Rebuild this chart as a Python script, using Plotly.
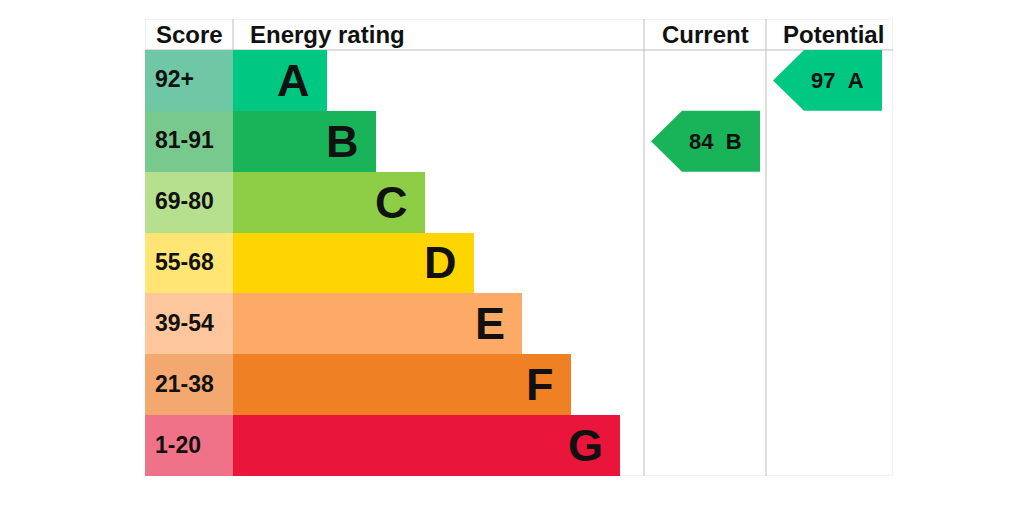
import plotly.graph_objects as go

# ---- data ----
bands = ["A", "B", "C", "D", "E", "F", "G"]
score_ranges = ["92+", "81-91", "69-80", "55-68", "39-54", "21-38", "1-20"]
band_lengths = [94, 143, 192, 241, 289, 338, 387]   # bar length (px-units)
band_colors = ["#00c781", "#19b459", "#8dce46", "#ffd500", "#fcaa65", "#ef8023", "#e9153b"]
score_colors = ["#6fc7a6", "#78c98d", "#b6e08e", "#ffe574", "#fdc69c", "#f2a86e", "#ef7289"]
headers = ["Score", "Energy rating", "Current", "Potential"]
current_score, current_band = 84, "B"
potential_score, potential_band = 97, "A"

# ---- layout geometry (axis units ~ pixels) ----
SCORE_W = 88
CUR_X0, CUR_X1 = 499, 621
POT_X0, POT_X1 = 621, 748
HEADER_U = 0.509
FONT = "Liberation Sans, Arial, Helvetica, sans-serif"
TXT = "#111111"
rows = list(range(len(bands)))

fig = go.Figure()

# score column
fig.add_trace(go.Bar(
    y=rows, x=[SCORE_W] * len(bands), base=0, orientation="h", width=1,
    marker=dict(color=score_colors, line=dict(width=0)), hoverinfo="skip",
    showlegend=False))
# rating bars
fig.add_trace(go.Bar(
    y=rows, x=band_lengths, base=SCORE_W, orientation="h", width=1,
    marker=dict(color=band_colors, line=dict(width=0)), hoverinfo="skip",
    showlegend=False))

def arrow(col_x0, col_x1, band, color, right_gap):
    i = bands.index(band)
    tip = col_x0 + 7
    notch = col_x0 + 38
    right = col_x1 - right_gap
    xs = [tip, notch, right, right, notch, tip]
    ys = [i, i - 0.5, i - 0.5, i + 0.5, i + 0.5, i]
    fig.add_trace(go.Scatter(x=xs, y=ys, mode="lines", fill="toself",
                             fillcolor=color, line=dict(width=0, color=color),
                             hoverinfo="skip", showlegend=False))
    return i, (notch + right) / 2 - 6

ci, cx = arrow(CUR_X0, CUR_X1, current_band, band_colors[bands.index(current_band)], 6)
pi, px = arrow(POT_X0, POT_X1, potential_band, band_colors[bands.index(potential_band)], 11)

ann = []
for i, (s, b, L) in enumerate(zip(score_ranges, bands, band_lengths)):
    ann.append(dict(x=8, y=i, text=s, xanchor="left", yanchor="middle", showarrow=False,
                    yshift=1,
                    font=dict(family=FONT, size=23, color=TXT, weight="bold")))
    ann.append(dict(x=SCORE_W + L, y=i, text=b, xanchor="right", yanchor="middle",
                    xshift=-15, showarrow=False,
                    font=dict(family=FONT, size=45, color=TXT, weight="bold")))

ann.append(dict(x=cx, y=ci, text=f"{current_score}\u00a0\u00a0{current_band}", showarrow=False,
                xanchor="center", yanchor="middle",
                font=dict(family=FONT, size=22, color=TXT, weight="bold")))
ann.append(dict(x=px, y=pi, text=f"{potential_score}\u00a0\u00a0{potential_band}", showarrow=False,
                xanchor="center", yanchor="middle",
                font=dict(family=FONT, size=22, color=TXT, weight="bold")))

hy = -0.5 - HEADER_U / 2
hdr_pos = [(9, "left"), (SCORE_W + 15, "left"), ((CUR_X0 + CUR_X1) / 2, "center"),
           ((POT_X0 + POT_X1) / 2 + 4, "center")]
for h, (x, anc) in zip(headers, hdr_pos):
    ann.append(dict(x=x, y=hy, text=h, xanchor=anc, yanchor="middle", showarrow=False,
                    font=dict(family=FONT, size=24, color=TXT, weight="bold")))

top = -0.5 - HEADER_U
bot = 6.5
light = "#e3e3e3"
mid = "#bdbdbd"
shapes = [
    dict(type="line", x0=0, x1=748, y0=top, y1=top, line=dict(color=light, width=1)),
    dict(type="line", x0=0, x1=748, y0=bot, y1=bot, line=dict(color=light, width=1)),
    dict(type="line", x0=0, x1=0, y0=top, y1=bot, line=dict(color=light, width=1)),
    dict(type="line", x0=748, x1=748, y0=top, y1=bot, line=dict(color=light, width=1)),
    dict(type="line", x0=0, x1=748, y0=-0.5, y1=-0.5, line=dict(color=mid, width=1)),
    dict(type="line", x0=SCORE_W, x1=SCORE_W, y0=top, y1=-0.5, line=dict(color=mid, width=1)),
    dict(type="line", x0=CUR_X0, x1=CUR_X0, y0=top, y1=bot, line=dict(color=mid, width=1)),
    dict(type="line", x0=POT_X0, x1=POT_X0, y0=top, y1=bot, line=dict(color=mid, width=1)),
]
for s in shapes:
    s["layer"] = "below"

fig.update_layout(
    width=1008, height=490,
    margin=dict(l=137, r=123, t=11, b=22, pad=0),
    paper_bgcolor="white", plot_bgcolor="white",
    barmode="overlay", bargap=0,
    xaxis=dict(range=[0, 748], visible=False, fixedrange=True),
    yaxis=dict(range=[bot, top], visible=False, fixedrange=True),
    annotations=ann, shapes=shapes,
)

fig.write_html("out.html")
